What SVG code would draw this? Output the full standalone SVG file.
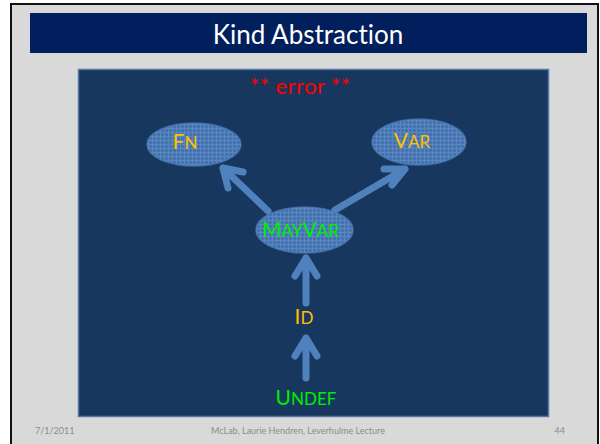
<svg xmlns="http://www.w3.org/2000/svg" width="600" height="444" viewBox="0 0 600 444">
  <style>
    text { font-variant-ligatures: none; }
    .lbl { font-family: Lato, "Open Sans", "Liberation Sans", sans-serif; text-anchor: middle; }
    .cap { font-size: 21px; }
    .sc { font-size: 17px; }
    .gold { fill: #ffc000; }
    .green { fill: #00ee00; }
    .foot { font-family: Lato, "Liberation Sans", sans-serif; font-size: 9px; fill: #8c8c8c; }
    .node { fill: url(#mesh); stroke: #4f7db8; stroke-opacity: 0.7; stroke-width: 1.5; }
    .arrow { fill: none; stroke: #4f81bd; stroke-width: 7; stroke-linecap: round; stroke-linejoin: round; }
  </style>
  <defs>
    <!-- fine cross-hatched fill used for the kind ellipses -->
    <pattern id="mesh" width="4" height="4" patternUnits="userSpaceOnUse">
      <rect width="4" height="4" fill="#4674b0"/>
      <path d="M0 0.5H4M0.5 0V4" stroke="#5a86c0" stroke-width="1"/>
      <rect x="2" y="2" width="1" height="1" fill="#3d69a3"/>
    </pattern>
  </defs>

  <!-- slide frame -->
  <rect x="11" y="4" width="587" height="445" fill="#d9d9d9" stroke="#111" stroke-width="2"/>

  <!-- title bar -->
  <g id="title">
    <rect x="30" y="13" width="557" height="40" fill="#001f5c"/>
    <text x="308" y="44" font-family="Lato, 'Open Sans', 'Liberation Sans', sans-serif" font-size="26" fill="#ffffff" text-anchor="middle">Kind Abstraction</text>
  </g>

  <!-- lattice panel -->
  <rect x="78.5" y="69.5" width="470" height="347" fill="#17375e" stroke="#5577a5" stroke-width="1.5"/>
  <text x="300" y="94" class="lbl" font-size="22" fill="#ff0000" textLength="100" lengthAdjust="spacing">** error **</text>

  <!-- connectors -->
  <g id="connectors">
    <path class="arrow" d="M268 211L223 168M243 172L223 168L228 188"/>
    <path class="arrow" d="M335 210L405 169M384 169L405 169L392 185"/>
    <path class="arrow" d="M306 303V258M295 276L306 258L317 276"/>
    <path class="arrow" d="M306 378V338M295 356L306 338L317 356"/>
  </g>

  <g id="fn">
    <ellipse class="node" cx="194" cy="144.5" rx="47" ry="21.5"/>
    <text x="185" y="149" class="lbl gold"><tspan class="cap">F</tspan><tspan class="sc">N</tspan></text>
  </g>

  <g id="var">
    <ellipse class="node" cx="419" cy="142" rx="47" ry="23"/>
    <text x="412" y="148" class="lbl gold"><tspan class="cap">V</tspan><tspan class="sc">AR</tspan></text>
  </g>

  <g id="mayvar">
    <ellipse class="node" cx="304.5" cy="230" rx="48.5" ry="23"/>
    <text x="300.5" y="237" class="lbl green"><tspan class="cap">M</tspan><tspan class="sc">AY</tspan><tspan class="cap">V</tspan><tspan class="sc">AR</tspan></text>
  </g>

  <g id="id">
    <text x="304" y="324" class="lbl gold"><tspan class="cap">I</tspan><tspan class="sc">D</tspan></text>
  </g>

  <g id="undef">
    <text x="306" y="405" class="lbl green"><tspan class="cap">U</tspan><tspan class="sc">NDEF</tspan></text>
  </g>

  <!-- footer -->
  <text x="35" y="434" class="foot">7/1/2011</text>
  <text x="298" y="434" class="foot" text-anchor="middle">McLab, Laurie Hendren, Leverhulme Lecture</text>
  <text x="565" y="434" class="foot" text-anchor="end">44</text>
</svg>
